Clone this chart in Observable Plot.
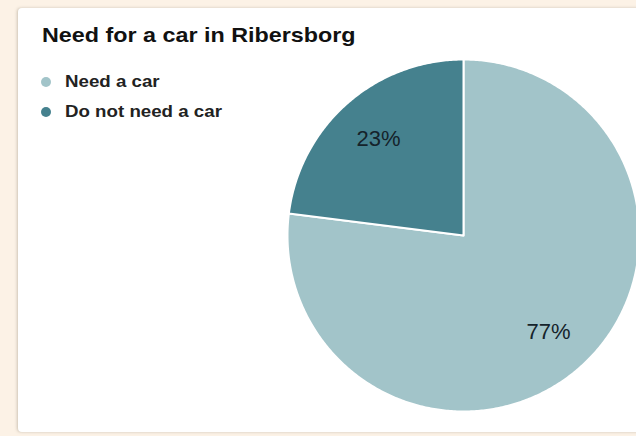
<!DOCTYPE html>
<html>
<head>
<meta charset="utf-8">
<script src="https://cdn.jsdelivr.net/npm/d3@7"></script>
<script src="https://cdn.jsdelivr.net/npm/@observablehq/plot@0.6"></script>
<style>
  html, body { margin: 0; padding: 0; }
  body { width: 636px; height: 436px; background: #fcf2e6; position: relative; overflow: hidden;
         font-family: "Liberation Sans", Arial, sans-serif; }
  #panel { position: absolute; left: 18px; top: 8px; width: 640px; height: 424px; background: #ffffff;
           border-radius: 4px; box-shadow: -1px 0 3px rgba(120,110,90,0.35); }
  #chart { position: absolute; left: 0; top: 0; }
  #title { position: absolute; left: 42px; top: 24px; font-size: 21px; line-height: 1; font-weight: bold; color: #111;
           white-space: nowrap; transform: scaleX(1.11); transform-origin: 0 0; }
  .leg { position: absolute; left: 41px; height: 17px; font-size: 17px; line-height: 1; font-weight: bold; color: #222;
         white-space: nowrap; display: flex; align-items: center; }
  .leg span.sw { display: inline-block; width: 10px; height: 10px; border-radius: 50%; margin-right: 14px; flex: none; }
  .leg span.tx { display: inline-block; transform: scaleX(1.1); transform-origin: 0 50%; }
</style>
</head>
<body>
<div id="panel"></div>
<div id="chart"></div>
<div id="title">Need for a car in Ribersborg</div>
<div id="legend"></div>
<script>
const categories = ["Need a car", "Do not need a car"];
const values = [77, 23];
const labels = ["77%", "23%"];
const colors = ["#a2c4c9", "#45818e"];

const W = 636, H = 436;
const cx = 463, cy = 235, R = 176;

// unit-circle coordinates; scales map them to pixels
const xDomain = [-cx / R, (W - cx) / R];
const yDomain = [-(H - cy) / R, cy / R];

const pie = d3.pie().sort(null).value(d => d.value);
const data = categories.map((c, i) => ({category: c, value: values[i], label: labels[i]}));
const arcs = pie(data);

const pts = [];
arcs.forEach(a => {
  const n = Math.max(2, Math.ceil((a.endAngle - a.startAngle) / 0.01));
  pts.push({category: a.data.category, x: 0, y: 0});
  for (let k = 0; k <= n; k++) {
    const t = a.startAngle + (a.endAngle - a.startAngle) * k / n;
    pts.push({category: a.data.category, x: Math.sin(t), y: Math.cos(t)});
  }
  pts.push({category: a.data.category, x: 0, y: 0});
});

const labelR = 0.73;
const labelPts = arcs.map(a => {
  const m = (a.startAngle + a.endAngle) / 2;
  return {label: a.data.label, x: labelR * Math.sin(m), y: labelR * Math.cos(m)};
});

const plot = Plot.plot({
  width: W, height: H,
  margin: 0,
  x: {domain: xDomain, axis: null},
  y: {domain: yDomain, axis: null},
  color: {domain: categories, range: colors},
  style: {background: "transparent", fontFamily: "Liberation Sans, Arial, sans-serif"},
  marks: [
    Plot.line(pts, {x: "x", y: "y", z: "category", fill: "category", stroke: "#ffffff", strokeWidth: 2, curve: "linear-closed"}),
    Plot.text(labelPts, {x: "x", y: "y", text: "label", fontSize: 22, fill: "#15232b"})
  ]
});
document.getElementById("chart").appendChild(plot);

const leg = document.getElementById("legend");
categories.forEach((c, i) => {
  const d = document.createElement("div");
  d.className = "leg";
  d.style.top = (73 + i * 30) + "px";
  d.innerHTML = `<span class="sw" style="background:${colors[i]}"></span><span class="tx">${c}</span>`;
  leg.appendChild(d);
});
</script>
</body>
</html>
